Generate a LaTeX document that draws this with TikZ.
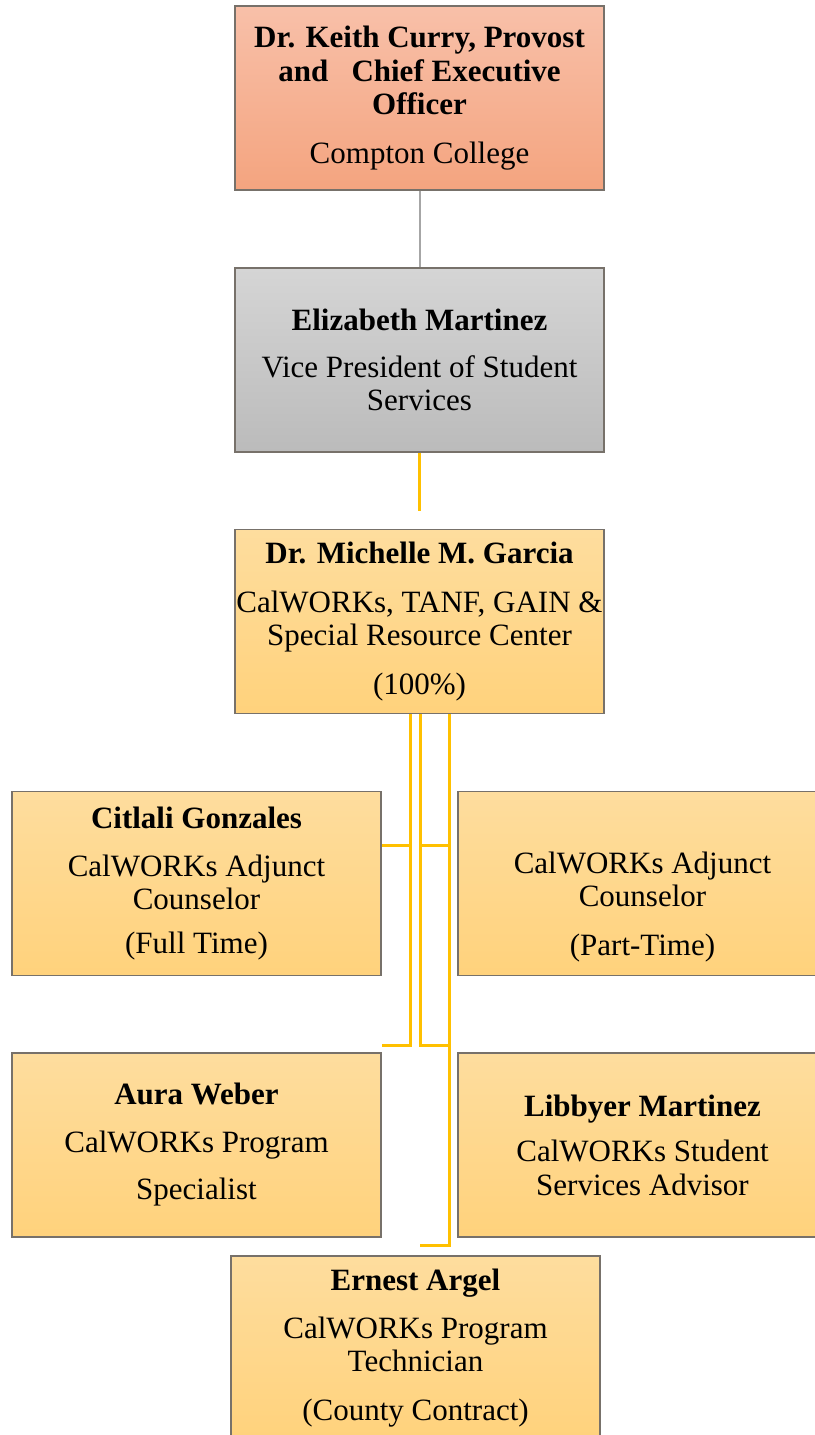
\documentclass[tikz,border=0pt]{standalone}
\usepackage{fontspec}
\setmainfont{Liberation Serif}
\definecolor{boxline}{HTML}{77716A}
\definecolor{gold}{HTML}{FFC000}
\definecolor{goldtop}{HTML}{FEDD9E}
\definecolor{goldbot}{HTML}{FFD27C}
\definecolor{salmontop}{HTML}{F8C0A9}
\definecolor{salmonbot}{HTML}{F4A47F}
\definecolor{greytop}{HTML}{D5D5D5}
\definecolor{greybot}{HTML}{BBBBBB}
\begin{document}
\begin{tikzpicture}[x=0.5pt,y=-0.5pt,
  person/.style={draw=boxline,line width=0.6pt,minimum width=184.5pt,minimum height=92pt,
    inner sep=0pt,align=center,font=\fontsize{15.5}{16.75}\selectfont},
  goldbox/.style={person,top color=goldtop,bottom color=goldbot},
  link/.style={draw=gold,line width=1.5pt}]
\useasboundingbox (0,0) rectangle (814,1435);

\node[person,top color=salmontop,bottom color=salmonbot] (provost) at (419.5,98)
  {\textbf{Dr. Keith Curry, Provost}\\\textbf{and~~~Chief Executive}\\\textbf{Officer}\\[7.5pt]Compton College};
\node[person,top color=greytop,bottom color=greybot] (vp) at (419.5,360)
  {\textbf{Elizabeth Martinez}\\[6.5pt]Vice President of Student\\Services};
\node[goldbox] (garcia) at (419.5,621.5)
  {\textbf{Dr. Michelle M. Garcia}\\[7.5pt]CalWORKs, TANF, GAIN \&\\Special Resource Center\\[7.5pt](100\%)};

\node[goldbox] (citlali) at (196.5,883.5)
  {\textbf{Citlali Gonzales}\\[7pt]CalWORKs Adjunct\\Counselor\\[5pt](Full Time)};
\node[goldbox] (parttime) at (642.5,883.5)
  {\vphantom{\textbf{Cg}}\\[7pt]CalWORKs Adjunct\\Counselor\\[7.5pt](Part-Time)};
\node[goldbox] (aura) at (196.5,1145)
  {\textbf{Aura Weber}\\[7pt]CalWORKs Program\\[7pt]Specialist};
\node[goldbox] (libbyer) at (642.5,1145)
  {\textbf{Libbyer Martinez}\\[6pt]CalWORKs Student\\Services Advisor};
\node[goldbox] (ernest) at (415.5,1348)
  {\textbf{Ernest Argel}\\[7pt]CalWORKs Program\\Technician\\[7.5pt](County Contract)};

% levels of the elbows
\coordinate (upper) at (0,845);
\coordinate (lower) at (0,1045);
\coordinate (hook) at (0,1245);
\coordinate (vpend) at (419.5,511);

\draw[draw=gray!70,line width=1pt] (provost.south) -- (vp.north);
\draw[link] (vp.south) -- (vpend);

\draw[link] ([xshift=-4.75pt]garcia.south) |- (citlali.east |- upper);
\draw[link] ([xshift=-4.75pt]garcia.south) |- (aura.east |- lower);
\draw[link] ([xshift=0.25pt]garcia.south) |- ([xshift=-4.5pt]parttime.west |- upper);
\draw[link] ([xshift=0.25pt]garcia.south) |- ([xshift=-4.5pt]libbyer.west |- lower);
\draw[link] ([xshift=14.75pt]garcia.south) |- ([xshift=2.25pt]ernest.north |- hook);

\end{tikzpicture}
\end{document}
